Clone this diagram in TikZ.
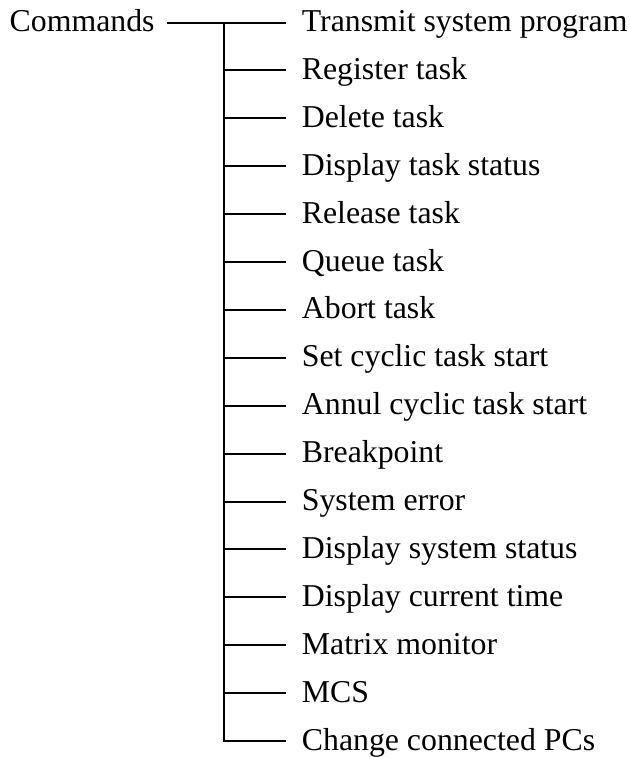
\documentclass[tikz,border=0pt]{standalone}
\usepackage{fontspec}
\setmainfont{Liberation Serif}
\begin{document}
\begin{tikzpicture}[x=0.5pt,y=-0.5pt,
  every node/.style={font=\fontsize{15.9}{19}\selectfont},
  cmd/.style={anchor=west, inner xsep=7.75pt, inner ysep=0pt, text height=9pt, text depth=0pt},
  root/.style={anchor=east, inner xsep=6pt, inner ysep=0pt, text height=9pt, text depth=0pt}]
\useasboundingbox (0,0) rectangle (630,757);

\node[root] (0) at (167,22.5) {Commands};

\node[cmd] (1) at (286,22.5) {Transmit system program};
\node[cmd] (2) at (286,70.4) {Register task};
\node[cmd] (3) at (286,118.3) {Delete task};
\node[cmd] (4) at (286,166.2) {Display task status};
\node[cmd] (5) at (286,214.1) {Release task};
\node[cmd] (6) at (286,262.0) {Queue task};
\node[cmd] (7) at (286,309.9) {Abort task};
\node[cmd] (8) at (286,357.8) {Set cyclic task start};
\node[cmd] (9) at (286,405.7) {Annul cyclic task start};
\node[cmd] (10) at (286,453.6) {Breakpoint};
\node[cmd] (11) at (286,501.5) {System error};
\node[cmd] (12) at (286,549.4) {Display system status};
\node[cmd] (13) at (286,597.3) {Display current time};
\node[cmd] (14) at (286,645.2) {Matrix monitor};
\node[cmd] (15) at (286,693.1) {MCS};
\node[cmd] (16) at (286,741.0) {Change connected PCs};

\coordinate (t1) at (224,22.5);
\coordinate (t2) at (224,70.4);
\coordinate (t3) at (224,118.3);
\coordinate (t4) at (224,166.2);
\coordinate (t5) at (224,214.1);
\coordinate (t6) at (224,262.0);
\coordinate (t7) at (224,309.9);
\coordinate (t8) at (224,357.8);
\coordinate (t9) at (224,405.7);
\coordinate (t10) at (224,453.6);
\coordinate (t11) at (224,501.5);
\coordinate (t12) at (224,549.4);
\coordinate (t13) at (224,597.3);
\coordinate (t14) at (224,645.2);
\coordinate (t15) at (224,693.1);
\coordinate (t16) at (224,741.0);

\path[draw,line width=1pt,-] (0.east) -- (1.west);
\path[draw,line width=1pt,-,line cap=rect] (t1) -- (t16);
\path[draw,line width=1pt,-] (t2) -- (2.west);
\path[draw,line width=1pt,-] (t3) -- (3.west);
\path[draw,line width=1pt,-] (t4) -- (4.west);
\path[draw,line width=1pt,-] (t5) -- (5.west);
\path[draw,line width=1pt,-] (t6) -- (6.west);
\path[draw,line width=1pt,-] (t7) -- (7.west);
\path[draw,line width=1pt,-] (t8) -- (8.west);
\path[draw,line width=1pt,-] (t9) -- (9.west);
\path[draw,line width=1pt,-] (t10) -- (10.west);
\path[draw,line width=1pt,-] (t11) -- (11.west);
\path[draw,line width=1pt,-] (t12) -- (12.west);
\path[draw,line width=1pt,-] (t13) -- (13.west);
\path[draw,line width=1pt,-] (t14) -- (14.west);
\path[draw,line width=1pt,-] (t15) -- (15.west);
\path[draw,line width=1pt,-] (t16) -- (16.west);
\end{tikzpicture}
\end{document}
